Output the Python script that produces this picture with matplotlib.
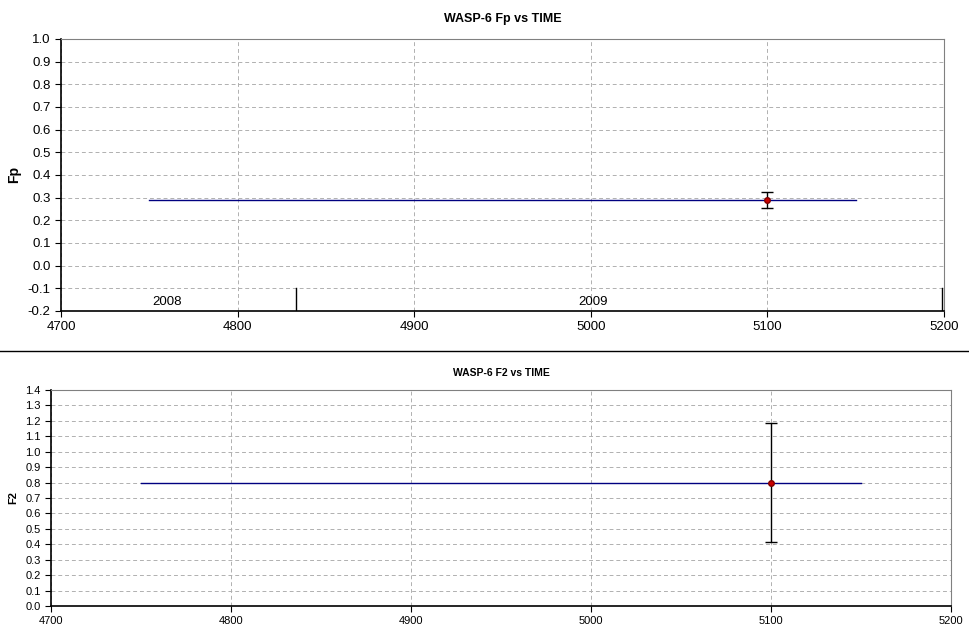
import matplotlib.pyplot as plt
from matplotlib.lines import Line2D

plt.rcParams['font.family'] = ['Liberation Sans', 'DejaVu Sans']

# data
fp_time = [5100]
fp_val = [0.29]
fp_err = [0.035]
fp_fit_x = [4750, 5150]
fp_fit_y = [0.29, 0.29]

f2_time = [5100]
f2_val = [0.80]
f2_err = [0.385]
f2_fit_x = [4750, 5150]
f2_fit_y = [0.80, 0.80]

year_marks = [4833, 5199]
year_labels = ['2008', '2009']
year_label_x = [4760, 5001]


def style_axes(ax, fs):
    ax.grid(True, color='#b0b0b0', linestyle=(0, (4, 3)), linewidth=0.7)
    ax.set_axisbelow(True)
    for s in ['top', 'right']:
        ax.spines[s].set_color('#808080')
    for s in ['left', 'bottom']:
        ax.spines[s].set_color('black')
        ax.spines[s].set_linewidth(1.2)
    ax.tick_params(labelsize=fs, length=4, direction='out')
    ax.set_xlim(4700, 5200)
    ax.set_xticks(range(4700, 5201, 100))


fig = plt.figure(figsize=(9.7, 6.33), dpi=100)

# upper chart
ax1 = fig.add_axes([0.0629, 0.5087, 0.9103, 0.4297])
ax1.plot(fp_fit_x, fp_fit_y, color='#000080', linewidth=1)
ax1.errorbar(fp_time, fp_val, yerr=fp_err, fmt='o', color='black', ecolor='black',
             markerfacecolor='#cc0000', markeredgecolor='#800000', markersize=4,
             capsize=4, elinewidth=1, zorder=5)
ax1.set_ylim(-0.2, 1.0)
ax1.set_yticks([round(-0.2 + 0.1 * i, 1) for i in range(13)])
ax1.set_yticklabels([f'{-0.2 + 0.1 * i:.1f}' for i in range(13)])
for x in year_marks:
    ax1.plot([x, x], [-0.2, -0.1], color='black', linewidth=1)
for x, lab in zip(year_label_x, year_labels):
    ax1.text(x, -0.16, lab, fontsize=9.5, ha='center', va='center')
style_axes(ax1, 9.5)
ax1.set_ylabel('Fp', fontsize=10, fontweight='bold', labelpad=5)
ax1.set_title('WASP-6 Fp vs TIME', fontsize=9, fontweight='bold', pad=12)

# separator line
fig.add_artist(Line2D([0, 1], [1 - 351 / 633, 1 - 351 / 633], color='black', linewidth=1))

# lower chart
ax2 = fig.add_axes([0.0526, 0.0427, 0.9278, 0.3412])
ax2.plot(f2_fit_x, f2_fit_y, color='#000080', linewidth=1)
ax2.errorbar(f2_time, f2_val, yerr=f2_err, fmt='o', color='black', ecolor='black',
             markerfacecolor='#cc0000', markeredgecolor='#800000', markersize=4,
             capsize=4, elinewidth=1, zorder=5)
ax2.set_ylim(0, 1.4)
ax2.set_yticks([round(0.1 * i, 1) for i in range(15)])
ax2.set_yticklabels([f'{0.1 * i:.1f}' for i in range(15)])
style_axes(ax2, 8)
ax2.set_ylabel('F2', fontsize=8, fontweight='bold', labelpad=5)
ax2.set_title('WASP-6 F2 vs TIME', fontsize=7.5, fontweight='bold', pad=10)

fig.savefig('out.png', dpi=100)
